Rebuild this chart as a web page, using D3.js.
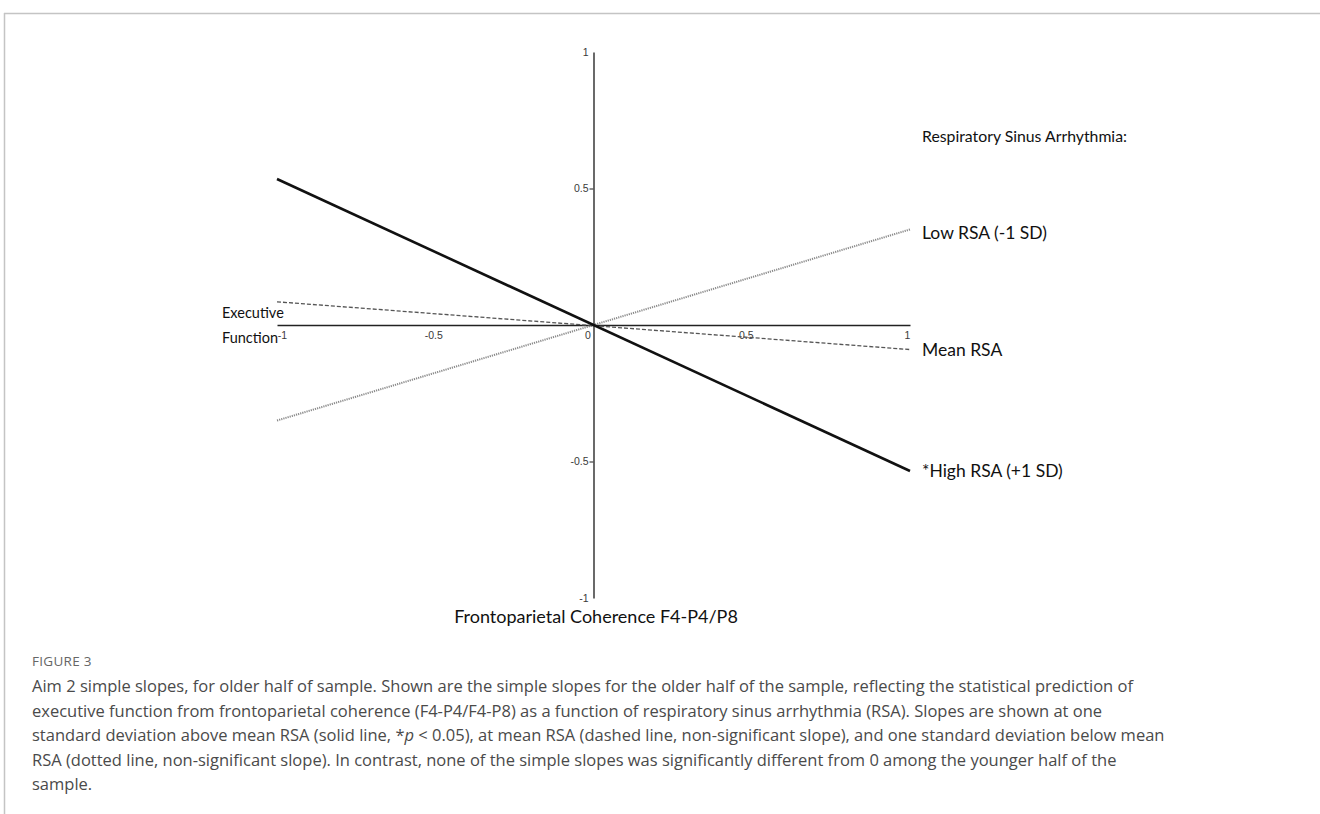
<!DOCTYPE html>
<html>
<head>
<meta charset="utf-8">
<script src="https://cdn.jsdelivr.net/npm/d3@7"></script>
<style>
  html, body { margin: 0; padding: 0; background: #fff; }
  svg { display: block; }
</style>
</head>
<body>
<svg id="chart" width="1320" height="814"></svg>
<script>
// ---- data ----
const xEnds = [-1, 1];
const seriesNames = ["Low RSA (-1 SD)", "Mean RSA", "*High RSA (+1 SD)"];
const lowRSA = [-0.35, 0.35];
const meanRSA = [0.085, -0.09];
const highRSA = [0.535, -0.535];
const xTicks = [-1, -0.5, 0, 0.5, 1];
const xTickLabels = ["-1", "-0.5", "0", "0.5", "1"];
const yTicks = [-1, -0.5, 0.5, 1];
const yTickLabels = ["-1", "-0.5", "0.5", "1"];
const legendTitle = "Respiratory Sinus Arrhythmia:";
const xTitle = "Frontoparietal Coherence F4-P4/P8";
const yTitle = ["Executive", "Function"];
const figLabel = "FIGURE 3";
const captionLines = [
  "Aim 2 simple slopes, for older half of sample. Shown are the simple slopes for the older half of the sample, reflecting the statistical prediction of",
  "executive function from frontoparietal coherence (F4-P4/F4-P8) as a function of respiratory sinus arrhythmia (RSA). Slopes are shown at one",
  "standard deviation above mean RSA (solid line, *|p| < 0.05), at mean RSA (dashed line, non-significant slope), and one standard deviation below mean",
  "RSA (dotted line, non-significant slope). In contrast, none of the simple slopes was significantly different from 0 among the younger half of the",
  "sample."
];

// ---- layout ----
const svg = d3.select("#chart");
const x = d3.scaleLinear().domain([-1, 1]).range([277, 910]);
const y = d3.scaleLinear().domain([-1, 1]).range([598, 52]);
const chartFont = "Lato, 'Open Sans', sans-serif";

// frame
svg.append("line").attr("x1", 4).attr("x2", 1320).attr("y1", 13.5).attr("y2", 13.5)
  .attr("stroke", "#c4c4c4").attr("stroke-width", 1.5);
svg.append("line").attr("x1", 4.5).attr("x2", 4.5).attr("y1", 13).attr("y2", 814)
  .attr("stroke", "#c4c4c4").attr("stroke-width", 1.5);

// x axis
const xAxis = svg.append("g").attr("transform", `translate(0,${y(0)})`)
  .call(d3.axisBottom(x).tickValues(xTicks).tickSize(0).tickSizeOuter(0)
    .tickFormat((d, i) => xTickLabels[i]));
xAxis.select(".domain").attr("stroke", "#222").attr("stroke-width", 1.6);
const xDx = [5, -2, -6, -6, -3];
xAxis.selectAll(".tick text")
  .attr("font-family", "'Liberation Sans', Arial, sans-serif")
  .attr("font-size", 10.5).attr("fill", "#3a3a3a")
  .attr("y", 7).attr("dx", (d, i) => xDx[i]);

// y axis
const yAxis = svg.append("g").attr("transform", `translate(${x(0)},0)`)
  .call(d3.axisLeft(y).tickValues(yTicks).tickSize(4).tickSizeOuter(0)
    .tickFormat((d, i) => yTickLabels[i]));
yAxis.select(".domain").attr("stroke", "#444").attr("stroke-width", 1.6);
yAxis.selectAll(".tick line").attr("stroke", "#444").attr("stroke-width", 1.2)
  .attr("opacity", (d) => Math.abs(d) === 1 ? 0 : 1);
yAxis.selectAll(".tick text")
  .attr("font-family", "'Liberation Sans', Arial, sans-serif")
  .attr("font-size", 10.5).attr("fill", "#3a3a3a").attr("x", -5);

// series
const series = [
  { name: seriesNames[0], values: lowRSA, stroke: "#8a8a8a", width: 2, dash: "1.2,1" },
  { name: seriesNames[1], values: meanRSA, stroke: "#555", width: 1.3, dash: "4,2" },
  { name: seriesNames[2], values: highRSA, stroke: "#111", width: 2.6, dash: null }
];
const line = d3.line().x((d) => x(d[0])).y((d) => y(d[1]));
series.forEach((s) => {
  svg.append("path")
    .datum(xEnds.map((xv, i) => [xv, s.values[i]]))
    .attr("d", line)
    .attr("fill", "none")
    .attr("stroke", s.stroke)
    .attr("stroke-width", s.width)
    .attr("stroke-dasharray", s.dash);
});

// legend labels
const legendX = 922;
svg.append("text").attr("x", legendX).attr("y", 142)
  .attr("font-family", chartFont).attr("font-size", 15.8).attr("fill", "#111")
  .text(legendTitle);
const legendDy = [10, 6, 6];
series.forEach((s, i) => {
  svg.append("text").attr("x", legendX)
    .attr("y", y(s.values[1]) + legendDy[i])
    .attr("font-family", chartFont).attr("font-size", 17.5).attr("fill", "#111")
    .text(s.name);
});

// axis titles
svg.append("text").attr("x", 596).attr("y", 623)
  .attr("text-anchor", "middle")
  .attr("font-family", chartFont).attr("font-size", 18).attr("fill", "#111")
  .text(xTitle);
yTitle.forEach((t, i) => {
  svg.append("text").attr("x", 222).attr("y", 318 + i * 25)
    .attr("font-family", chartFont).attr("font-size", 14.5).attr("fill", "#111")
    .text(t);
});

// caption
svg.append("text").attr("x", 32).attr("y", 666)
  .attr("font-family", "'Open Sans', sans-serif").attr("font-size", 13.5)
  .attr("fill", "#666").attr("letter-spacing", 0.3)
  .text(figLabel);
const cap = svg.append("text")
  .attr("font-family", "'Open Sans', sans-serif").attr("font-size", 16.5)
  .attr("fill", "#4a4a4a");
captionLines.forEach((ln, i) => {
  const parts = ln.split("|");
  parts.forEach((p, j) => {
    const ts = cap.append("tspan").text(p);
    if (j === 0) ts.attr("x", 32).attr("y", 692 + i * 24.5);
    if (j === 1) ts.attr("font-style", "italic");
  });
});
</script>
</body>
</html>
